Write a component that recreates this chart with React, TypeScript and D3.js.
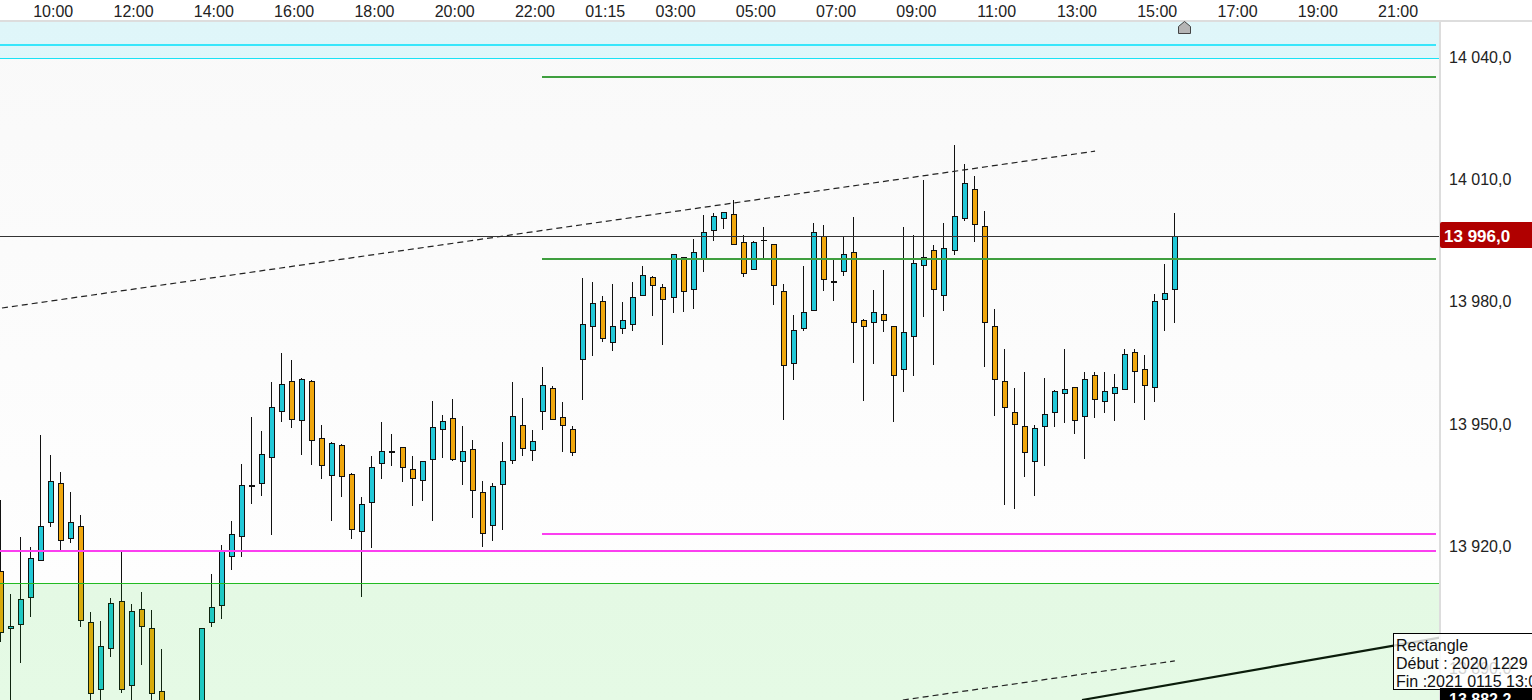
import React from "react";
import * as d3 from "d3";

// Candle values, left to right. Indices 17-19 sit below the visible range (estimated).
const opens = [13913.8,13899.7,13900.8,13907.4,13916.5,13925.8,13935.4,13921.9,13924.8,13901.3,13884.8,13894.9,13906.4,13885.8,13904.5,13899.8,13884.3,13878,13868,13866,13875,13901.3,13905.4,13917.5,13922.4,13934.4,13935.4,13941.8,13953.1,13960.5,13950.8,13960.4,13946.4,13937.3,13944.7,13937.6,13923.6,13930.7,13940.3,13942.7,13944.2,13938.8,13936.1,13941.3,13948.6,13951.3,13940.8,13943.7,13933.2,13925.1,13935.1,13941.0,13949.6,13943.5,13953.1,13958.7,13951.6,13948.6,13965.8,13973.9,13980.0,13970.0,13973.4,13974.4,13981.5,13985.9,13983.5,13981.0,13990.8,13983.0,13990.4,13997.5,14000.4,14001.4,13994.5,13987.9,13995.0,13994.0,13982.5,13964.8,13973.4,13977.8,13996.0,13985.0,13987.4,13992.1,13975.4,13974.9,13976.9,13973.9,13963.4,13971.5,13988.9,13992.6,13981.5,13992.6,14000.4,14007.5,13998.5,13973.9,13960.4,13952.8,13949.4,13940.8,13949.4,13952.8,13957.5,13958.9,13951.8,13961.9,13955.5,13957.5,13958.5,13967.5,13963.4,13958.9,13980.5,13983.0];
const closes = [13898.8,13900.3,13906.9,13917.0,13924.8,13935.9,13921.4,13925.8,13901.8,13883.8,13895.4,13905.9,13884.8,13904.0,13900.3,13883.8,13875,13872,13874,13872,13899.8,13905.0,13918.9,13922.9,13934.9,13934.9,13942.5,13954.1,13959.8,13951.2,13960.9,13945.9,13939.8,13945.2,13937.1,13924.1,13930.2,13939.3,13943.2,13943.2,13939.3,13936.6,13940.8,13949.1,13950.6,13941.3,13943.2,13933.7,13923.1,13934.6,13940.8,13951.8,13944.0,13945.7,13959.4,13951.1,13949.6,13943.0,13974.4,13979.6,13971.0,13973.9,13975.4,13981.0,13986.4,13984.0,13980.5,13991.6,13982.5,13992.1,13997.0,14000.9,14001.9,13994.0,13986.9,13994.5,13995.0,13984.0,13964.3,13972.9,13977.3,13997.0,13985.4,13984.5,13991.6,13974.9,13973.9,13977.3,13975.4,13961.9,13972.4,13989.4,13990.8,13983.0,13993.1,14000.9,14009.0,13998.9,13974.9,13960.9,13954.0,13949.9,13943.0,13948.9,13952.3,13958.0,13958.5,13950.8,13960.9,13956.0,13958.0,13958.9,13967.0,13962.9,13959.4,13980.0,13982.0,13996.0];
const highs = [13931.3,13908.2,13922.2,13919.8,13947.2,13942.3,13938.2,13933.2,13927.6,13903.8,13901.6,13907.2,13918.7,13905.8,13908.7,13904.3,13894.7,13880,13877,13875,13899.8,13913.1,13920.2,13926.1,13940.1,13951.7,13948.2,13960.2,13967.4,13965.6,13961.2,13960.7,13949.7,13945.5,13945.0,13937.8,13931.9,13942.1,13950.4,13947.5,13944.4,13942.1,13940.8,13955.6,13952.1,13956.0,13949.4,13946.0,13936.0,13935.4,13945.5,13960.2,13956.3,13948.5,13963.9,13959.3,13955.3,13949.4,13985.8,13984.8,13981.3,13984.3,13979.9,13984.8,13988.7,13986.3,13984.3,13991.6,13990.8,13995.3,14001.2,14001.7,14001.9,14004.9,13996.2,13994.8,13998.2,13994.0,13984.3,13976.6,13988.7,13999.2,13998.8,13990.6,13996.0,14000.7,13975.6,13982.8,13987.7,13973.9,13998.2,13996.2,14009.7,13993.8,13999.2,14018.4,14013.7,14010.8,14002.2,13978.2,13968.3,13958.8,13962.6,13949.7,13961.2,13958.3,13968.3,13958.9,13962.6,13962.6,13962.6,13962.2,13968.3,13968.3,13966.9,13981.8,13989.2,14001.7];
const lows = [13896.5,13877.3,13891.4,13902.6,13916.5,13924.7,13919.0,13920.8,13900.0,13881.0,13881.0,13892.8,13884.0,13881.0,13890.9,13881.0,13872,13868,13864,13862,13872,13900.2,13902.2,13914.2,13917.4,13930.4,13932.3,13922.8,13950.4,13949.0,13942.3,13939.9,13936.5,13926.2,13931.9,13921.8,13907.6,13919.6,13936.5,13939.7,13935.8,13929.9,13931.1,13926.2,13941.7,13940.9,13935.0,13926.9,13919.8,13921.1,13924.0,13940.2,13942.2,13940.9,13948.5,13951.1,13943.1,13942.2,13955.8,13966.5,13970.1,13967.9,13971.9,13972.8,13981.5,13976.5,13969.2,13977.2,13977.5,13978.2,13987.3,13994.9,13997.9,13994.0,13986.1,13987.9,13990.4,13979.2,13951.0,13960.8,13972.8,13977.8,13982.6,13980.2,13986.3,13965.0,13955.7,13964.7,13972.6,13950.5,13957.9,13961.8,13976.3,13964.5,13977.7,13991.5,13999.8,13994.7,13964.0,13952.0,13930.1,13929.1,13937.0,13932.3,13939.7,13949.3,13950.3,13947.6,13941.4,13951.5,13952.7,13950.7,13958.5,13955.2,13951.0,13955.4,13972.8,13974.8];

const timeLabels = ["10:00","12:00","14:00","16:00","18:00","20:00","22:00","01:15","03:00","05:00","07:00","09:00","11:00","13:00","15:00","17:00","19:00","21:00"];
const timeIndex = [5,13,21,29,37,45,53,60,67,75,83,91,99,107,115,123,131,139];
const priceTicks = [14040,14010,13980,13950,13920];
const fadedTick = 13890;
const lastPrice = 13996;
const bottomPrice = 13882.2;
const topBandEdge = 14039.75;
const zoneEdge = 13910.9;
const cyanLevel = 14042.9;
const greenLevels = [14035.1, 13990.4];
const magentaShort = 13922.9;
const magentaLong = 13918.8;
const levelStart = 54;
const levelEnd = 143;
const dashedA = [[0.14,13978.4],[109.05,14016.9]];
const dashedB = [[89.9,13882.2],[117,13891.8]];
const solidTrend = [[107.75,13882.2],[143.4,13897.5]];
const noteLines = ["Rectangle","Début : 2020 1229","Fin :2021 0115 13:00"];

const FONT = "'Liberation Sans', Arial, sans-serif";
const UP = "#22c8d8";
const DOWN = "#f0a70d";
const INK = "#111111";
const fmt = (p: number) => d3.format(",.1f")(p).replace(",", " ").replace(".", ",");

export default function App() {
  const x = d3.scaleLinear().domain([0, 117]).range([0.57, 1174.83]);
  const y = d3.scaleLinear().domain([14040, bottomPrice]).range([57, 700]);
  const lineGen = d3.line<number[]>().x((d) => x(d[0])).y((d) => y(d[1]));
  const px = (i: number) => Math.floor(x(i));
  const py = (p: number) => Math.round(y(p));
  const plotR = 1440;
  const levelL = Math.floor(x(levelStart));
  const levelR = Math.round(x(levelEnd));

  return (
    <svg width={1532} height={700} viewBox="0 0 1532 700" style={{ position: "fixed", left: 0, top: 0, background: "#fff", fontFamily: FONT }}>
      <defs>
        <linearGradient id="plotBg" x1="0" y1="0" x2="0" y2="1">
          <stop offset="0" stopColor="#f9f9f9" />
          <stop offset="1" stopColor="#ffffff" />
        </linearGradient>
        <clipPath id="plot"><rect x={0} y={21} width={plotR} height={679} /></clipPath>
      </defs>

      <rect x={0} y={21} width={plotR} height={679} fill="url(#plotBg)" />

      <g clipPath="url(#plot)">
        {opens.map((o, i) => {
          const c = closes[i];
          const W = px(i);
          const top = py(Math.max(o, c));
          const bot = py(Math.min(o, c));
          const hi = py(highs[i]);
          const lo = py(lows[i]);
          const span = bot - top;
          const h = span > 3 ? span + 1 : Math.max(1, span);
          return (
            <g key={i} shapeRendering="crispEdges">
              <rect x={W} y={hi} width={1} height={lo - hi} fill={INK} />
              <rect x={W - 2} y={top} width={6} height={h} fill={INK} />
              {h > 2 && <rect x={W - 1} y={top + 1} width={4} height={h - 2} fill={c >= o ? UP : DOWN} />}
            </g>
          );
        })}

        <rect x={0} y={21} width={plotR} height={y(topBandEdge) - 21} fill="rgb(0,230,255)" fillOpacity={0.1} />
        <line x1={0} x2={plotR} y1={py(topBandEdge) + 0.5} y2={py(topBandEdge) + 0.5} stroke="#19e3f5" strokeWidth={1} shapeRendering="crispEdges" />
        <rect x={0} y={y(zoneEdge)} width={plotR} height={700 - y(zoneEdge)} fill="rgb(0,205,0)" fillOpacity={0.1} />
        <line x1={0} x2={plotR} y1={py(zoneEdge) + 0.5} y2={py(zoneEdge) + 0.5} stroke="#22bb22" strokeWidth={1} shapeRendering="crispEdges" />

        <line x1={0} x2={levelR} y1={py(cyanLevel)} y2={py(cyanLevel)} stroke="#38e6fb" strokeWidth={2} shapeRendering="crispEdges" />
        {greenLevels.map((g) => (
          <line key={g} x1={levelL} x2={levelR} y1={py(g)} y2={py(g)} stroke="#3f9f3f" strokeWidth={2} shapeRendering="crispEdges" />
        ))}
        <line x1={levelL} x2={levelR} y1={py(magentaShort)} y2={py(magentaShort)} stroke="#fb3ff0" strokeWidth={2} shapeRendering="crispEdges" />
        <line x1={0} x2={levelR} y1={py(magentaLong)} y2={py(magentaLong)} stroke="#fb3ff0" strokeWidth={2} shapeRendering="crispEdges" />
        <line x1={0} x2={plotR} y1={py(lastPrice) + 0.5} y2={py(lastPrice) + 0.5} stroke="#333333" strokeWidth={1} shapeRendering="crispEdges" />

        <path d={lineGen(dashedA) || ""} fill="none" stroke="#222" strokeWidth={1.2} strokeDasharray="6 4" />
        <path d={lineGen(dashedB) || ""} fill="none" stroke="#222" strokeWidth={1.2} strokeDasharray="6 4" />
        <path d={lineGen(solidTrend) || ""} fill="none" stroke="#0b1c0b" strokeWidth={2.2} />
      </g>

      <line x1={0} x2={1532} y1={21} y2={21} stroke="#dddddd" strokeWidth={2} shapeRendering="crispEdges" />
      <line x1={1440} x2={1440} y1={21} y2={700} stroke="#dddddd" strokeWidth={2} shapeRendering="crispEdges" />

      {timeLabels.map((t, i) => (
        <text key={t} x={x(timeIndex[i]) + 2.5} y={17} textAnchor="middle" fontSize={16} fill="#222">{t}</text>
      ))}
      {priceTicks.map((p) => (
        <text key={p} x={1449} y={Math.round(y(p) + 5.9)} fontSize={16} fill="#222">{fmt(p)}</text>
      ))}
      <text x={1449} y={Math.round(y(fadedTick) + 5.9)} fontSize={16} fill="#222">{fmt(fadedTick)}</text>

      <rect x={1440} y={222} width={94} height={26} rx={2} fill="#b00000" />
      <text x={1444} y={242} fontSize={17} fontWeight="bold" fill="#fff">{fmt(lastPrice)}</text>

      <path d="M1178.5 33.5 V26.5 L1184.5 21.5 L1190.5 26.5 V33.5 Z" fill="#b5b5b5" stroke="#444" strokeWidth={1} />

      <rect x={1393.5} y={633.5} width={140} height={56} fill="#fff" fillOpacity={0.8} stroke="#000" strokeWidth={1} />
      {noteLines.map((l, i) => (
        <text key={l} x={1396} y={651 + i * 18} fontSize={16} fill="#111">{l}</text>
      ))}

      <rect x={1440} y={688} width={92} height={12} fill="#000" />
      <text x={1449} y={705} fontSize={16} fontWeight="bold" fill="#fff">{fmt(bottomPrice)}</text>
    </svg>
  );
}
